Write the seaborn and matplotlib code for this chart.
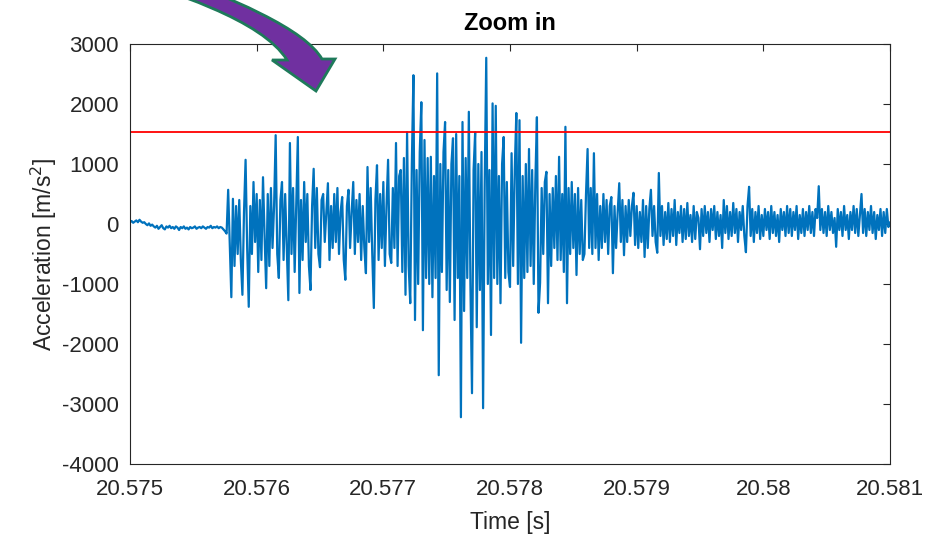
import matplotlib
matplotlib.use("Agg")
import matplotlib.pyplot as plt
import seaborn as sns
import numpy as np
import pandas as pd
from matplotlib.path import Path
from matplotlib.patches import PathPatch

# time window of the zoomed record
t_start = 20.575
t_end = 20.581
threshold = 1530

# acceleration samples [m/s^2]
quiet = [30, 50, 20, 40, 60, 30, 70, 40, 20, 30,
         0, -20, 10, -30, -10, -40, -60, -30, -80, -50,
         -20, -70, -90, -40, -60, -30, -70, -50, -80, -40,
         -60, -100, -50, -70, -40, -80, -60, -90, -50, -70,
         -60, -40, -80, -60, -50, -70, -40, -60, -80, -50,
         -60, -30, -70, -50, -60, -40, -70, -50, -60, -90,
         -120, -160]
onset = [570, -300, -1220, 420, -700, 300, -500, 400, -600, -1180,
         200, 1070, -400, -1380, 300, -500, 700, -300, 500, -800,
         400, -600, 780, -200, -1070, 500, -700, 600, -400, 300,
         1480, -500, -900, 400, 700, -600, 500, -400, -1270, 1350,
         -500, 600, -800, 300, 1450, -1150, 400, -600, 700, -300,
         500, -700, -1100, 300, 920, -400, 600, -500, -720, 400,
         500, -300, 200, 680, -600]
build = [300, -400, 500, -300, 600, -500, 200, 450, -600, -930,
         300, 570, -400, 200, 700, -500, 400, -300, 500, -600,
         300, -400, -820, 950, -300, 600, -500, -1400, 400, 980,
         -600, 500, -400, 700, -700, 300, 1070, -500, -650, 600,
         -400, 1350, -700, 800]
peak = [900, -800, 1100, -1180, 1530, -700, -1320, 1000, 2480, -1600,
        900, -1000, 1200, 2030, -1770, 1400, -900, 1100, -1000, 1120,
        -1220, 800, -900, 2510, -2520, 1000, -800, 1200, 1700, -1100,
        900, -1300, 1000, 1430, -1600, 1500, -900, 800, -3220, 1700,
        -1450, 1100, -900, 1870, -1000, -2820, 900, 1530, -1720, 1000,
        -1100, 1200, -3070, 600, 2770, -1000, 900, -1850, 2010, -900,
        1970, -1000, 800, -1320, 1000, 1450, -900, 700, -800, -1050,
        1180, -700, 900, 1850, -1000, 1730, -1980, 800, -900, 1000,
        -800, 1250, -700, 900, -1000, 700, 1780, -1480]
decay = [-980, 600, -500, 700, 870, -1320, 500, -700, 600, -400,
         800, -600, 1120, -600, 500, -800, 1620, -1320, 600, -500,
         700, -400, 500, -850, 600, -500, 400, -600, -500, 500,
         1250, -400, 600, -500, 1180, -400, 500, -600, 300, -400,
         500, -300, 400, -500, 300, 450, -820, 300, -400, 200,
         680, -300, 400, -520, 300, -300, 400, -200, 300, 520,
         -350, 300, -400, 200, -300, 400, -550, 300, -400, 250]
tail = [570, -200, 300, -300, -480, 850, -200, 300, -350, 200,
        -250, 350, -300, 250, -200, 400, -350, 200, -150, 300,
        -300, 250, -250, 350, -200, 150, -300, 300, -250, 200,
        100, -420, 250, -200, 300, -150, 200, -300, 250, -100,
        300, -250, 200, -200, 150, -400, 400, -150, 300, -250,
        200, -200, 350, -150, 250, -300, 200, -100, 300, -200,
        -470, 300, 620, -200, 250, -300, 200, -150, 300, -250,
        150, -200, 250, -100, 200, -250, 300, -150, 200, -200,
        150, -300, 250, -100, 200, -200, 300, -150, 250, -200,
        200, -100, 300, -250, 150, -150, 250, -200, 200, -100,
        300, -150, 200, -200, 250, 100, 630, -100, 250, -150,
        200, -200, 300, -100, 200, -150, 100, -380, 250, -100,
        200, -200, 300, -100, 150, -250, 200, -100, 300, -150,
        250, -200, 150, 500, -150, 250, -200, 200, -100, 300,
        -150, 200, -250, 150, -100, 250, -200, 200, -150, 250,
        -50, 30]

xticks = [20.575, 20.576, 20.577, 20.578, 20.579, 20.58, 20.581]
xtick_labels = ["20.575", "20.576", "20.577", "20.578", "20.579", "20.58", "20.581"]
yticks = [-4000, -3000, -2000, -1000, 0, 1000, 2000, 3000]

accel = np.array(quiet + onset + build + peak + decay + tail, dtype=float)
time = np.linspace(t_start, t_end, len(accel))
df = pd.DataFrame({"Time": time, "Acceleration": accel})

sns.set_style("white")
plt.rcParams['font.family'] = ['Liberation Sans', 'DejaVu Sans']
plt.rcParams['axes.unicode_minus'] = False
text_col = "#262626"

fig = plt.figure(figsize=(9.48, 5.38), dpi=100)
ax = fig.add_axes([130 / 948, 74 / 538, 760 / 948, 420 / 538])

sns.lineplot(data=df, x="Time", y="Acceleration", ax=ax, color="#0072BD",
             linewidth=1.6, estimator=None, sort=False)
ax.axhline(threshold, color="#FF0000", linewidth=1.3)

ax.set_xlim(t_start, t_end)
ax.set_ylim(-4000, 3000)
ax.set_xticks(xticks, xtick_labels)
ax.set_yticks(yticks)
ax.tick_params(direction="in", length=5, width=0.8, colors=text_col,
               labelsize=16, top=True, right=True, labeltop=False, labelright=False)
ax.tick_params(axis="x", pad=11)
ax.tick_params(axis="y", pad=8)
for sp in ax.spines.values():
    sp.set_visible(True)
    sp.set_color(text_col)
    sp.set_linewidth(0.8)

ax.set_xlabel("Time [s]", fontsize=16.5, color=text_col, labelpad=8)
ax.set_ylabel("Acceleration [m/s$^2$]", fontsize=16.5, color=text_col, labelpad=2)
ax.set_title("Zoom in", fontsize=17, fontweight="bold", color="black", pad=10)

# curved pointer arrow (outline in image pixels, y measured from the top)
H = 538
outline = [(95, -32), (175, -8), (262, 20), (287, 60),     # lower edge of shaft
           (272, 60), (316, 91), (335, 59), (322, 59),     # head
           (305, 30), (240, 0), (130, -40),                # upper edge back
           (95, -32)]
codes = [Path.MOVETO, Path.CURVE4, Path.CURVE4, Path.CURVE4,
         Path.LINETO, Path.LINETO, Path.LINETO, Path.LINETO,
         Path.CURVE4, Path.CURVE4, Path.CURVE4,
         Path.CLOSEPOLY]
verts = [(x, H - y) for x, y in outline]
arrow = PathPatch(Path(verts, codes), facecolor="#7030A0", edgecolor="#1E7A5A",
                  linewidth=2, joinstyle="miter", transform=None, clip_on=False)
fig.add_artist(arrow)

fig.savefig("out.png", dpi=100)
plt.close(fig)
